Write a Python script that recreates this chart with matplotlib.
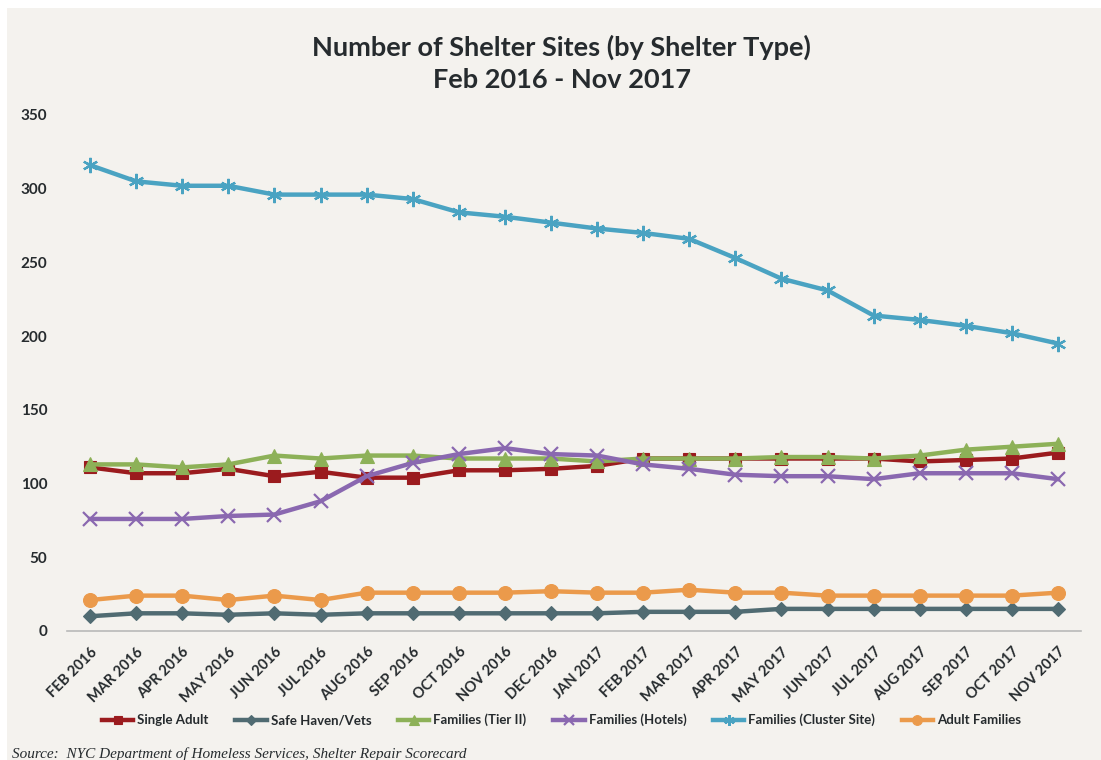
import matplotlib.pyplot as plt
from matplotlib.patches import Rectangle

months = ["FEB 2016", "MAR 2016", "APR 2016", "MAY 2016", "JUN 2016", "JUL 2016",
          "AUG 2016", "SEP 2016", "OCT 2016", "NOV 2016", "DEC 2016", "JAN 2017",
          "FEB 2017", "MAR 2017", "APR 2017", "MAY 2017", "JUN 2017", "JUL 2017",
          "AUG 2017", "SEP 2017", "OCT 2017", "NOV 2017"]

single_adult = [111, 107, 107, 110, 105, 108, 104, 104, 109, 109, 110, 112,
                117, 117, 117, 117, 117, 117, 115, 116, 117, 121]
safe_haven = [10, 12, 12, 11, 12, 11, 12, 12, 12, 12, 12, 12,
              13, 13, 13, 15, 15, 15, 15, 15, 15, 15]
tier_two = [113, 113, 111, 113, 119, 117, 119, 119, 117, 117, 117, 115,
            117, 117, 117, 118, 118, 117, 119, 123, 125, 127]
hotels = [76, 76, 76, 78, 79, 88, 105, 114, 120, 124, 120, 119,
          113, 110, 106, 105, 105, 103, 107, 107, 107, 103]
cluster = [316, 305, 302, 302, 296, 296, 296, 293, 284, 281, 277, 273,
           270, 266, 253, 239, 231, 214, 211, 207, 202, 195]
adult_families = [21, 24, 24, 21, 24, 21, 26, 26, 26, 26, 27, 26,
                  26, 28, 26, 26, 24, 24, 24, 24, 24, 26]

series = [
    ("Single Adult", single_adult, "#9b1b1e", "s", 9),
    ("Safe Haven/Vets", safe_haven, "#506b72", "D", 7),
    ("Families (Tier II)", tier_two, "#8db158", "^", 10),
    ("Families (Hotels)", hotels, "#8a68b0", "x", 10),
    ("Families (Cluster Site)", cluster, "#4aa3c2", (6, 2, 0), 11),
    ("Adult Families", adult_families, "#eb9a4b", "o", 10),
]

bg = "#f4f2ee"
text_color = "#262b2e"

fig = plt.figure(figsize=(11.01, 7.60), dpi=100, facecolor="white")
fig.patches.append(Rectangle((7 / 1101, 0), 1 - 7 / 1101, 1 - 8 / 760,
                             transform=fig.transFigure, facecolor=bg,
                             edgecolor="none", zorder=-10))

ax = fig.add_axes([67 / 1101, 1 - 631 / 760, (1081 - 67) / 1101, (631 - 115) / 760])
ax.set_facecolor(bg)
ax.patch.set_alpha(0)

x = list(range(len(months)))
for label, values, color, marker, ms in series:
    ax.plot(x, values, color=color, lw=3.2, marker=marker, markersize=ms,
            markeredgecolor=color, markeredgewidth=1.6 if marker in ("x", (6, 2, 0)) else 0.8,
            label=label, solid_joinstyle="round")

ax.set_xlim(-0.5, len(months) - 0.5)
ax.set_ylim(0, 350)
ax.set_yticks(range(0, 351, 50))
ax.set_xticks(x)
ax.set_xticklabels(months, rotation=45, ha="right", rotation_mode="anchor",
                   fontfamily="Lato", fontweight="bold", fontsize=10.5, color=text_color)
for lbl in ax.get_yticklabels():
    lbl.set_fontfamily("Lato")
    lbl.set_fontweight("bold")
    lbl.set_fontsize(11)
    lbl.set_color(text_color)
ax.tick_params(axis="both", length=0)
ax.tick_params(axis="y", pad=14)
ax.tick_params(axis="x", pad=10)

for side in ("top", "right", "left"):
    ax.spines[side].set_visible(False)
ax.spines["bottom"].set_color("#b9b9b9")
ax.spines["bottom"].set_linewidth(1.2)

fig.text(0.51, 1 - 47 / 760, "Number of Shelter Sites (by Shelter Type)",
         ha="center", va="center", fontsize=19.5, fontfamily="Lato",
         fontweight="bold", color=text_color)
fig.text(0.51, 1 - 80 / 760, "Feb 2016 - Nov 2017",
         ha="center", va="center", fontsize=19.5, fontfamily="Lato",
         fontweight="bold", color=text_color)

fig.legend(loc="center", bbox_to_anchor=(0.51, 1 - 720 / 760), ncol=6,
           frameon=False, handlelength=2.4, handletextpad=0.3, columnspacing=2.0,
           markerscale=0.7, prop={"family": "Lato", "weight": "bold", "size": 9.5})
for t in fig.legends[0].get_texts():
    t.set_color(text_color)

fig.text(12 / 1101, 1 - 758 / 760,
         "Source:  NYC Department of Homeless Services, Shelter Repair Scorecard",
         ha="left", va="baseline", fontsize=11, fontstyle="italic",
         fontfamily="Liberation Serif", color=text_color)

fig.savefig("out.png", dpi=100, facecolor="white")
